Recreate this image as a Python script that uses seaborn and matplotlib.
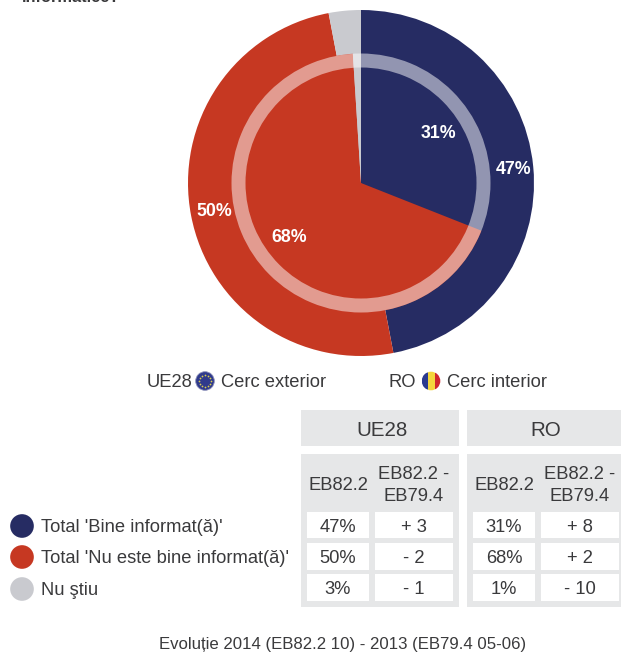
import numpy as np
import matplotlib
matplotlib.use("Agg")
import matplotlib.pyplot as plt
from matplotlib.patches import Rectangle, Circle
import seaborn as sns
import pandas as pd

# data
categories = ["Total 'Bine informat(ă)'", "Total 'Nu este bine informat(ă)'", "Nu ştiu"]
ue28_values = [47, 50, 3]
ro_values = [31, 68, 1]
ue28_delta = ["+ 3", "- 2", "- 1"]
ro_delta = ["+ 8", "+ 2", "- 10"]
colors = ["#262C63", "#C63822", "#C9CACF"]

sns.set_theme(style="white")
plt.rcParams['font.family'] = ['Liberation Sans', 'DejaVu Sans']
TXT = "#3A3A3C"
W, H = 621, 655
fig = plt.figure(figsize=(W/100, H/100), dpi=100, facecolor="white")

# page axes in pixel units
ax = fig.add_axes([0, 0, 1, 1])
ax.set_xlim(0, W); ax.set_ylim(H, 0); ax.axis("off")

# pie axes
cx, cy, R = 361, 183, 173
pa = fig.add_axes([(cx-R)/W, 1-(cy+R)/H, 2*R/W, 2*R/H])
flat = dict(linewidth=0, edgecolor="none")
pa.pie(ue28_values, colors=colors, startangle=90, counterclock=False, radius=1.0, wedgeprops=flat)
pa.pie(ro_values, colors=colors, startangle=90, counterclock=False, radius=129.5/R, wedgeprops=flat)
pa.pie([1], colors=["white"], radius=129.5/R, wedgeprops=dict(width=14/R, alpha=0.5, linewidth=0, edgecolor="none"))
pa.set_xlim(-1, 1); pa.set_ylim(-1, 1)

def pct(ax_, x, y, s):
    ax_.text(x, y, s, color="white", fontsize=12.8, fontweight="bold", ha="center", va="center", zorder=6)

for (x, y), v in zip([(514, 170), (214, 212)], ue28_values):
    pct(ax, x, y, f"{v}%")
for (x, y), v in zip([(438, 133), (289, 237)], ro_values):
    pct(ax, x, y, f"{v}%")
ax.set_zorder(3); ax.patch.set_alpha(0)

# clipped title remnant
ax.text(22, -3, "informatice?", fontsize=11.8, fontweight="bold", color=TXT, ha="left", va="center", clip_on=False)

FS = 13.2
OFF = 1.5
# flags
ax.text(147, 381+OFF, "UE28", fontsize=FS, color=TXT, ha="left", va="center")
ax.text(221, 381+OFF, "Cerc exterior", fontsize=FS, color=TXT, ha="left", va="center")
ax.text(389, 381+OFF, "RO", fontsize=FS, color=TXT, ha="left", va="center")
ax.text(447, 381+OFF, "Cerc interior", fontsize=FS, color=TXT, ha="left", va="center")

ax.add_patch(Circle((205, 381), 9.3, fc="#2F3A8C", ec="#8A8FB8", lw=0.6))
star_angles = np.deg2rad(np.arange(0, 360, 30))
ax.scatter(205 + 6*np.cos(star_angles), 381 + 6*np.sin(star_angles), s=1.6, c="#D8CC50", linewidths=0)

clip = Circle((431, 381), 9.3, transform=ax.transData, fc="none", ec="none")
ax.add_patch(clip)
for x0, c in zip([421.5, 428, 434.5], ["#2B3A8F", "#F4D63C", "#D0272D"]):
    r = Rectangle((x0, 371), 6.5, 20, fc=c, ec="none")
    ax.add_patch(r); r.set_clip_path(clip)

# table
G = "#E6E7E8"
def rect(x0, y0, x1, y1, c):
    ax.add_patch(Rectangle((x0, y0), x1-x0, y1-y0, fc=c, ec="none"))
def t(x, y, s, fs=FS, ls=1.0):
    ax.text(x, y, s, fontsize=fs, color=TXT, ha="center", va="center", linespacing=ls)

blocks = [
    ("UE28", 301, 459, (307, 369), (375, 453), ue28_values, ue28_delta),
    ("RO", 467, 621, (473, 535), (541, 619), ro_values, ro_delta),
]
rows = [(512, 538), (543, 570), (574, 601)]
for name, x0, x1, c1, c2, vals, deltas in blocks:
    rect(x0, 410, x1, 446, G)
    rect(x0, 454, x1, 607, G)
    t((x0+x1)/2 + 1.5, 430, name, 14.8)
    t(sum(c1)/2, 485.5, "EB82.2")
    t(sum(c2)/2, 485.5, "EB82.2 -\nEB79.4", ls=1.45)
    for (y0, y1), v, d in zip(rows, vals, deltas):
        rect(c1[0], y0, c1[1], y1, "white")
        rect(c2[0], y0, c2[1], y1, "white")
        t(sum(c1)/2, (y0+y1)/2 + 2, f"{v}%")
        t(sum(c2)/2, (y0+y1)/2 + 2, d)

# legend dots via seaborn
legend_df = pd.DataFrame({"x": [22, 22, 22], "y": [526, 557, 589], "cat": categories})
sns.scatterplot(data=legend_df, x="x", y="y", hue="cat", palette=colors, s=290, linewidth=0, legend=False, ax=ax)
ax.set_xlim(0, W); ax.set_ylim(H, 0); ax.axis("off")
for y, c in zip(legend_df["y"], categories):
    ax.text(41, y + OFF, c, fontsize=FS, color=TXT, ha="left", va="center")

ax.text(343, 644.5, "Evoluție 2014 (EB82.2 10) - 2013 (EB79.4 05-06)", fontsize=12.1, color=TXT, ha="center", va="center")

fig.savefig("out.png", dpi=100, facecolor="white")
